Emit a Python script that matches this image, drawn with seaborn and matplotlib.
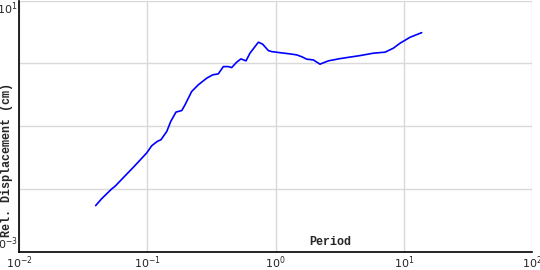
import matplotlib
matplotlib.use("Agg")
import matplotlib.pyplot as plt
import seaborn as sns
import pandas as pd

period = [0.0396, 0.0442, 0.0528, 0.0560, 0.0778, 0.0990, 0.1084, 0.1197, 0.128,
          0.142, 0.1524, 0.1675, 0.186, 0.197, 0.222, 0.250, 0.291, 0.324, 0.358,
          0.392, 0.429, 0.455, 0.498, 0.538, 0.589, 0.632, 0.735, 0.794, 0.879,
          0.933, 1.084, 1.297, 1.463, 1.61, 1.751, 1.971, 2.223, 2.58, 3.18, 4.56,
          5.79, 7.14, 8.29, 9.35, 11.19, 13.8]
displacement = [0.00547, 0.00707, 0.01007, 0.01107, 0.0222, 0.0376, 0.0490, 0.0574,
                0.0611, 0.0827, 0.119, 0.168, 0.178, 0.219, 0.357, 0.456, 0.582,
                0.657, 0.681, 0.889, 0.889, 0.857, 1.045, 1.179, 1.096, 1.452, 2.17,
                2.02, 1.60, 1.54, 1.48, 1.415, 1.365, 1.27, 1.166, 1.136, 0.971,
                1.096, 1.19, 1.33, 1.452, 1.506, 1.742, 2.09, 2.60, 3.08]
x_ticks = [1e-2, 1e-1, 1e0, 1e1, 1e2]
x_tick_labels = [r"$10^{-2}$", r"$10^{-1}$", r"$10^{0}$", r"$10^{1}$", r"$10^{2}$"]
y_ticks = [1e-3, 1e-2, 1e-1, 1e0, 1e1]
y_tick_labels = [r"$10^{-3}$", "", "", "", r"$10^{1}$"]

df = pd.DataFrame({"Period": period, "Disp": displacement})

sns.set_style("white")
fig = plt.figure(figsize=(5.4, 2.7), dpi=100)
ax = fig.add_axes([19/540, 1 - 252/270, 513/540, 251.5/270])

sns.lineplot(data=df, x="Period", y="Disp", ax=ax, color="#0000ff", linewidth=1.2,
             sort=False, estimator=None)

ax.set_xscale("log")
ax.set_yscale("log")
ax.set_xlim(1e-2, 1e2)
ax.set_ylim(1e-3, 1e1)
ax.set_xticks(x_ticks)
ax.set_xticklabels(x_tick_labels)
ax.set_yticks(y_ticks)
ax.set_yticklabels(y_tick_labels)
ax.minorticks_off()
ax.grid(True, which="major", color="#d9d9d9", linewidth=1.0)
ax.set_axisbelow(True)

for s in ["top", "right"]:
    ax.spines[s].set_visible(False)
for s in ["left", "bottom"]:
    ax.spines[s].set_color("black")
    ax.spines[s].set_linewidth(1.2)

ax.tick_params(axis="both", direction="in", length=4, width=1, color="black",
               labelsize=8, pad=2)
ax.tick_params(axis="y", pad=1)
yl = ax.get_yticklabels()
yl[0].set_verticalalignment("bottom")
yl[-1].set_verticalalignment("top")

ax.set_xlabel("Period", fontfamily="Liberation Mono", fontweight="bold", fontsize=8.5)
ax.xaxis.set_label_coords(0.606, 0.04)
ax.xaxis.label.set_verticalalignment("center")
ax.set_ylabel("Rel. Displacement (cm)", fontfamily="Liberation Mono",
              fontweight="bold", fontsize=8.5)
ax.yaxis.set_label_coords(-0.023, 0.366)
ax.yaxis.label.set_verticalalignment("center")

fig.savefig("out.png", dpi=100)
